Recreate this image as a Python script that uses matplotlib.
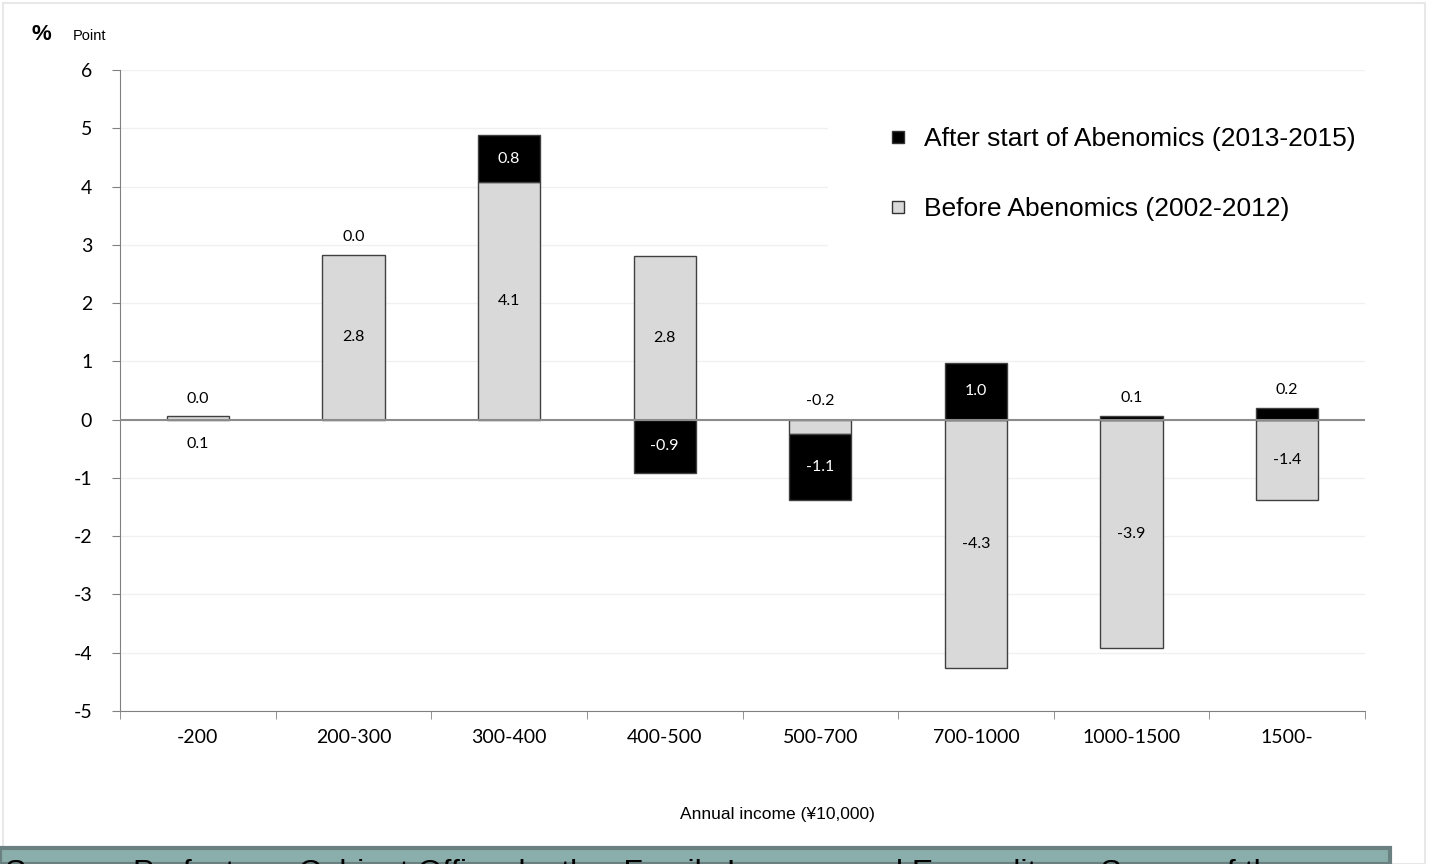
import numpy as np
import matplotlib.pyplot as plt
from matplotlib.patches import Rectangle
from matplotlib.lines import Line2D

# data
categories = ['-200', '200-300', '300-400', '400-500', '500-700', '700-1000', '1000-1500', '1500-']
before = [0.06, 2.83, 4.07, 2.80, -0.24, -4.27, -3.92, -1.38]   # 2002-2012
after = [0.0, 0.0, 0.82, -0.92, -1.14, 0.97, 0.07, 0.20]        # 2013-2015
# where each label goes: in = centre of segment, above / below = outside
before_pos = ['below', 'in', 'in', 'in', 'above0', 'in', 'in', 'in']
after_pos = ['above', 'above', 'in', 'in', 'in', 'in', 'above', 'above']

fig = plt.figure(figsize=(14.29, 8.64), dpi=100)
ax = fig.add_axes([120/1429, 1-711/864, 1245/1429, 641/864])

x = np.arange(len(categories))
w = 0.4
gray = '#d9d9d9'
edge = '#404040'
lblfont = dict(fontsize=11.5, family='Lato', ha='center', va='center', zorder=5)

for i in range(len(categories)):
    b = before[i]
    a = after[i]
    ax.bar(x[i], b, w, color=gray, edgecolor=edge, linewidth=1, zorder=3)
    # after segment stacks on top of before when same sign, else starts at 0
    base = b if (a * b > 0) else 0
    if a != 0:
        ax.bar(x[i], a, w, bottom=base, color='black', edgecolor=edge, linewidth=1, zorder=3)
    top = max(0, b, base + a)

    # labels for before
    if before_pos[i] == 'in':
        ax.text(x[i], b/2, f'{b:.1f}', **lblfont)
    elif before_pos[i] == 'below':
        ax.text(x[i], -0.42, f'{b:.1f}', **lblfont)
    else:
        ax.text(x[i], 0.32, f'{b:.1f}', **lblfont)

    # labels for after
    if after_pos[i] == 'in':
        ax.text(x[i], base + a/2, f'{a:.1f}', color='white', **lblfont)
    else:
        ax.text(x[i], top + 0.3, f'{a:.1f}', **lblfont)

ax.axhline(0, color='#8c8c8c', linewidth=1.5, zorder=4)

ax.set_xlim(-0.5, len(categories) - 0.5)
ax.set_ylim(-5, 6)
ax.set_yticks(range(-5, 7))
ax.set_yticklabels([str(v) for v in range(-5, 7)], fontsize=14, family='Lato')
ax.yaxis.grid(True, color='#f0f0f0', linewidth=1, zorder=0)
ax.set_axisbelow(True)

ax.set_xticks(x)
ax.set_xticklabels(categories, fontsize=14, family='Lato')
ax.set_xticks(np.arange(-0.5, len(categories)), minor=True)
ax.tick_params(axis='x', which='major', length=0, pad=13)
ax.tick_params(axis='x', which='minor', length=6, color='#808080', direction='out')
ax.tick_params(axis='y', length=6, color='#808080', direction='out', pad=14)

for s in ['top', 'right']:
    ax.spines[s].set_visible(False)
ax.spines['left'].set_color('#808080')
ax.spines['bottom'].set_color('#808080')

# white box behind the legend hides the grid lines there
ax.add_patch(Rectangle((828/1429, 1-255/864), 537/1429, 160/864, transform=fig.transFigure,
                       facecolor='white', edgecolor='none', zorder=1))

handles = [Line2D([], [], marker='s', linestyle='', markersize=8, markerfacecolor='black', markeredgecolor='#333333'),
           Line2D([], [], marker='s', linestyle='', markersize=8, markerfacecolor=gray, markeredgecolor='#333333')]
leg = fig.legend(handles, ['After start of Abenomics (2013-2015)', 'Before Abenomics (2002-2012)'],
                 loc='upper left', bbox_to_anchor=(888/1429, 1-127/864), prop={'family': 'Liberation Sans', 'size': 19},
                 frameon=False, labelspacing=1.75, handlelength=0.75, handletextpad=0.62,
                 borderpad=0, borderaxespad=0)

fig.text(31/1429, 1-34/864, '%', fontsize=16, fontweight='bold', family='Liberation Sans', va='center')
fig.text(73/1429, 1-36/864, 'Point', fontsize=10.5, family='Liberation Sans', va='center')
fig.text(777/1429, 1-815/864, 'Annual income (¥10,000)', fontsize=12.5, family='Liberation Sans', ha='center', va='center')

# outer border
fig.patches.append(Rectangle((3/1429, 0), 1422/1429, 1-3/864, transform=fig.transFigure,
                             fill=False, edgecolor='#e8e8e8', linewidth=1.5))
# source banner at the bottom, mostly cut off
fig.patches.append(Rectangle((0, 0), 1390/1429, 16/864, transform=fig.transFigure,
                             facecolor='#8aaeab', edgecolor='#6b8080', linewidth=3))
fig.text(5/1429, -18/864, 'Source:  Prefecture  Cabinet Office  by the  Family Income  and Expenditure  Survey of the',
         fontsize=23, family='Liberation Sans', va='baseline', color='black')

fig.savefig('out.png', dpi=100)
